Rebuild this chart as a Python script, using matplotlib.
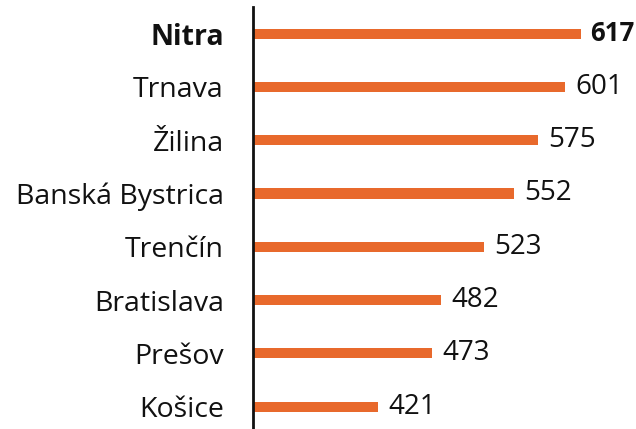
import matplotlib.pyplot as plt

regiony = ['Nitra', 'Trnava', 'Žilina', 'Banská Bystrica', 'Trenčín', 'Bratislava', 'Prešov', 'Košice']
hodnoty = [617, 601, 575, 552, 523, 482, 473, 421]

plt.rcParams['font.family'] = ['Open Sans', 'DejaVu Sans']

fig = plt.figure(figsize=(6.36, 4.29), dpi=100)
ax = fig.add_axes([253 / 636, 0, 1 - 253 / 636, 422 / 429])

farba = '#E8692C'
y = list(range(len(regiony)))
ax.barh(y, [h - 300 for h in hodnoty], left=300, height=0.19, color=farba)

# hodnoty za stĺpcami, prvá tučne
for i, (r, h) in enumerate(zip(regiony, hodnoty)):
    if i == 0:
        ax.text(h + 9, i, str(h), va='center', ha='left', fontsize=18.5,
                fontweight='bold', color='#111111')
    else:
        ax.text(h + 10, i, str(h), va='center', ha='left', fontsize=20,
                color='#111111')

ax.set_yticks(y)
ax.set_yticklabels(regiony, fontsize=20.5, color='#111111')
ax.get_yticklabels()[0].set_fontweight('bold')
ax.tick_params(axis='y', length=0, pad=21)

ax.set_xlim(300, 670)
ax.set_ylim(7.42, -0.5)
ax.set_xticks([])
for s in ['top', 'right', 'bottom']:
    ax.spines[s].set_visible(False)
ax.spines['left'].set_linewidth(2)
ax.spines['left'].set_color('#111111')

fig.savefig('out.png', dpi=100)
